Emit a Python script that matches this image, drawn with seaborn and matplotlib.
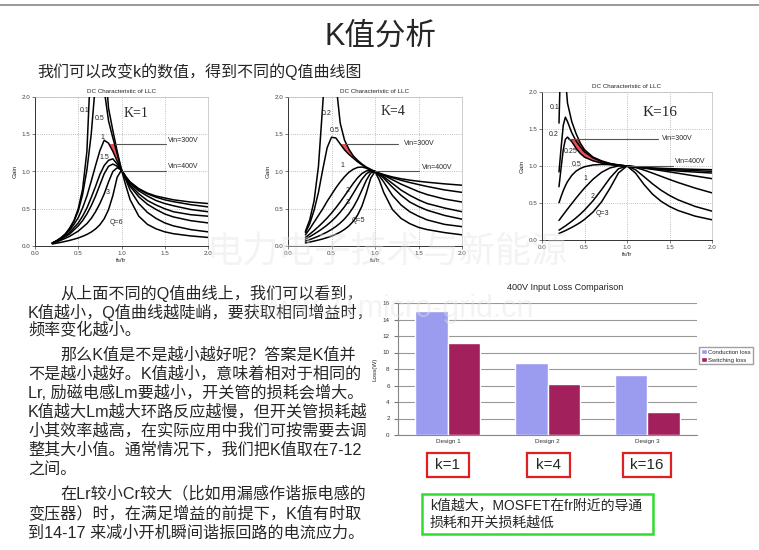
import matplotlib
matplotlib.use("Agg")
import matplotlib.pyplot as plt
from matplotlib.patches import Rectangle
from matplotlib.lines import Line2D
import seaborn as sns
import pandas as pd

W, H = 759, 550

# fs/fr sample points used for the K=1 and K=4 gain plots
FN = [0.2, 0.25, 0.3, 0.35, 0.4, 0.45, 0.5, 0.55, 0.6, 0.65, 0.7, 0.75, 0.8,
      0.85, 0.9, 0.95, 1.0, 1.05, 1.1, 1.2, 1.3, 1.4, 1.5, 1.6, 1.8, 2.0]
# fs/fr sample points for the K=16 plot (denser near the low peaks)
FN16 = [0.2, 0.225, 0.25, 0.275, 0.3, 0.35, 0.4, 0.45, 0.5, 0.6, 0.7, 0.8,
        0.9, 1.0, 1.1, 1.2, 1.3, 1.4, 1.5, 1.6, 1.8, 2.0]

# K=1 gain curves
K1_Q01 = [0.04, 0.07, 0.11, 0.16, 0.24, 0.34, 0.50, 0.76, 1.27, 2.60, 5.00, 4.00, 2.60,
          1.85, 1.55, 1.27, 1.02, 0.93, 0.86, 0.77, 0.71, 0.67, 0.645, 0.62, 0.59, 0.57]
K1_Q05 = [0.04, 0.07, 0.11, 0.16, 0.23, 0.33, 0.47, 0.69, 1.02, 1.50, 2.20, 2.50, 2.10,
          1.68, 1.45, 1.24, 1.02, 0.93, 0.85, 0.76, 0.70, 0.655, 0.62, 0.595, 0.555, 0.525]
K1_Q1 = [0.04, 0.07, 0.10, 0.15, 0.21, 0.29, 0.38, 0.51, 0.67, 0.87, 1.08, 1.28, 1.42,
         1.38, 1.27, 1.14, 1.02, 0.92, 0.84, 0.74, 0.67, 0.61, 0.57, 0.54, 0.49, 0.46]
K1_Q15 = [0.04, 0.066, 0.09, 0.135, 0.18, 0.245, 0.31, 0.40, 0.51, 0.65, 0.80, 0.96, 1.08,
          1.15, 1.17, 1.10, 1.02, 0.91, 0.82, 0.70, 0.61, 0.55, 0.50, 0.46, 0.42, 0.40]
K1_Q2 = [0.04, 0.063, 0.09, 0.125, 0.16, 0.215, 0.27, 0.34, 0.43, 0.54, 0.67, 0.82, 0.97,
         1.07, 1.10, 1.07, 1.02, 0.905, 0.80, 0.66, 0.56, 0.49, 0.43, 0.39, 0.34, 0.31]
K1_Q3 = [0.037, 0.056, 0.078, 0.103, 0.13, 0.165, 0.20, 0.25, 0.30, 0.37, 0.46, 0.57, 0.70,
         0.86, 1.00, 1.05, 1.02, 0.89, 0.75, 0.57, 0.45, 0.37, 0.31, 0.27, 0.22, 0.19]
K1_Q6 = [0.027, 0.038, 0.049, 0.062, 0.075, 0.091, 0.108, 0.13, 0.155, 0.187, 0.229, 0.285, 0.366,
         0.488, 0.676, 0.923, 1.02, 0.81, 0.62, 0.40, 0.29, 0.23, 0.19, 0.165, 0.135, 0.115]

# K=4 gain curves
K4_Q02 = [0.196, 0.351, 0.608, 1.068, 1.91, 2.82, 2.56, 2.20, 1.65, 1.42, 1.30, 1.21, 1.15,
          1.10, 1.06, 1.03, 1.0, 0.977, 0.958, 0.927, 0.903, 0.884, 0.869, 0.856, 0.834, 0.816]
K4_Q05 = [0.18, 0.30, 0.48, 0.72, 1.03, 1.32, 1.46, 1.45, 1.37, 1.29, 1.23, 1.18, 1.13,
          1.09, 1.05, 1.02, 1.0, 0.976, 0.955, 0.916, 0.882, 0.852, 0.825, 0.799, 0.753, 0.72]
K4_Q1 = [0.15, 0.23, 0.32, 0.41, 0.50, 0.60, 0.69, 0.78, 0.86, 0.93, 0.99, 1.03, 1.055,
         1.06, 1.045, 1.015, 1.0, 0.973, 0.95, 0.89, 0.83, 0.78, 0.73, 0.69, 0.63, 0.59]
K4_Q15 = [0.114, 0.16, 0.208, 0.26, 0.316, 0.376, 0.442, 0.513, 0.59, 0.673, 0.757, 0.841, 0.915,
          0.973, 1.007, 1.015, 1.0, 0.968, 0.93, 0.84, 0.75, 0.68, 0.62, 0.57, 0.51, 0.46]
K4_Q2 = [0.092, 0.125, 0.16, 0.197, 0.237, 0.282, 0.332, 0.389, 0.454, 0.528, 0.611, 0.706, 0.804,
         0.897, 0.969, 1.005, 1.0, 0.96, 0.91, 0.79, 0.68, 0.59, 0.53, 0.48, 0.41, 0.36]
K4_Q3 = [0.066, 0.086, 0.108, 0.132, 0.159, 0.188, 0.222, 0.261, 0.308, 0.364, 0.433, 0.519, 0.625,
         0.751, 0.882, 0.98, 1.0, 0.94, 0.86, 0.68, 0.55, 0.46, 0.40, 0.35, 0.29, 0.26]
K4_Q5 = [0.041, 0.053, 0.066, 0.080, 0.095, 0.113, 0.133, 0.157, 0.186, 0.223, 0.269, 0.331, 0.415,
         0.536, 0.708, 0.909, 1.0, 0.882, 0.72, 0.49, 0.37, 0.30, 0.25, 0.22, 0.18, 0.15]

# K=16 gain curves
K16_Q01 = [1.58, 2.70, 3.00, 2.20, 1.85, 1.60, 1.44, 1.31, 1.22, 1.12, 1.07, 1.035,
           1.015, 1.0, 0.99, 0.981, 0.974, 0.969, 0.964, 0.961, 0.955, 0.95]
K16_Q02 = [0.92, 1.25, 1.55, 1.66, 1.60, 1.45, 1.34, 1.26, 1.19, 1.11, 1.06, 1.03,
           1.012, 1.0, 0.988, 0.977, 0.968, 0.96, 0.953, 0.947, 0.937, 0.928]
K16_Q025 = [0.72, 0.98, 1.22, 1.36, 1.39, 1.33, 1.24, 1.17, 1.12, 1.07, 1.04, 1.02,
            1.008, 1.0, 0.987, 0.974, 0.962, 0.951, 0.941, 0.932, 0.918, 0.905]
K16_Q05 = [0.504, 0.589, 0.666, 0.733, 0.789, 0.873, 0.93, 0.966, 0.99, 1.014, 1.021, 1.019,
           1.011, 1.0, 0.987, 0.971, 0.955, 0.938, 0.92, 0.902, 0.865, 0.829]
K16_Q1 = [0.265, 0.304, 0.342, 0.38, 0.418, 0.492, 0.565, 0.635, 0.702, 0.821, 0.914, 0.974,
          1.001, 1.0, 0.979, 0.945, 0.904, 0.861, 0.818, 0.777, 0.702, 0.637]
K16_Q2 = [0.133, 0.152, 0.171, 0.19, 0.211, 0.253, 0.299, 0.349, 0.404, 0.53, 0.679, 0.838,
          0.963, 1.0, 0.949, 0.856, 0.759, 0.673, 0.602, 0.543, 0.454, 0.39]
K16_Q3 = [0.089, 0.101, 0.114, 0.127, 0.141, 0.17, 0.202, 0.237, 0.278, 0.377, 0.514, 0.70,
          0.907, 1.0, 0.905, 0.75, 0.62, 0.524, 0.453, 0.399, 0.323, 0.273]

# loss comparison bar chart
DESIGNS = ["Design 1", "Design 2", "Design 3"]
CONDUCTION = [15.0, 8.7, 7.3]
SWITCHING = [11.1, 6.2, 2.8]
K_BOXES = ["k=1", "k=4", "k=16"]

PARAGRAPHS = [
    "从上面不同的Q值曲线上，我们可以看到，",
    "K值越小，Q值曲线越陡峭，要获取相同增益时，",
    "频率变化越小。",
    "那么K值是不是越小越好呢？答案是K值并",
    "不是越小越好。K值越小，意味着相对于相同的",
    "Lr, 励磁电感Lm要越小，开关管的损耗会增大。",
    "K值越大Lm越大环路反应越慢，但开关管损耗越",
    "小其效率越高，在实际应用中我们可按需要去调",
    "整其大小值。通常情况下，我们把K值取在7-12",
    "之间。",
    "在Lr较小Cr较大（比如用漏感作谐振电感的",
    "变压器）时，在满足增益的前提下，K值有时取",
    "到14-17 来减小开机瞬间谐振回路的电流应力。",
]

sns.set_style("white")
plt.rcParams["font.family"] = ["Liberation Sans", "Noto Sans CJK SC", "DejaVu Sans"]

fig = plt.figure(figsize=(W / 100, H / 100), dpi=100)


def frac(x, y):
    return x / W, 1 - y / H


def axes_rect(left, top, right, bottom):
    return [left / W, 1 - bottom / H, (right - left) / W, (bottom - top) / H]


def gain_plot(rect, fn, curves, red_lo, red_hi, red_from, labels, k_text, k_pos, k_size,
              v300, v400):
    ax = fig.add_axes(rect)
    rows = []
    for name, vals in curves:
        for f, g in zip(fn, vals):
            rows.append({"fs/fr": f, "Gain": g, "Q": name})
    df = pd.DataFrame(rows)
    sns.lineplot(data=df, x="fs/fr", y="Gain", units="Q", estimator=None,
                 color="black", lw=1.1, legend=False, ax=ax, zorder=3)

    cd = dict(curves)
    mask = [red_from <= f <= 1.0 for f in fn]
    poly = ax.fill_between(fn, cd[red_lo], cd[red_hi], where=mask,
                           color="#e8303a", alpha=0.85, lw=0, zorder=2)
    poly.set_clip_path(Rectangle((0, 1.0), 2.0, 0.37, transform=ax.transData))

    # Vin operating lines
    ax.plot(v300[0], [1.37, 1.37], color="#555555", lw=0.8, zorder=4)
    ax.text(v300[1], v300[2], "Vin=300V", fontsize=5, va="center")
    ax.plot(v400[0], [1.0, 1.0], color="#555555", lw=0.8, zorder=4)
    ax.text(v400[1], v400[2], "Vin=400V", fontsize=5, va="center")

    for txt, x, y in labels:
        ax.text(x, y, txt, fontsize=5, ha="center", va="center", zorder=5)
    ax.text(k_pos[0], k_pos[1], k_text, fontsize=k_size, family=["Liberation Serif"],
            ha="center", va="center")

    ax.set_xlim(0, 2)
    ax.set_ylim(0, 2)
    ticks = [0, 0.5, 1.0, 1.5, 2.0]
    ax.set_xticks(ticks, ["0.0", "0.5", "1.0", "1.5", "2.0"])
    ax.set_yticks(ticks, ["0.0", "0.5", "1.0", "1.5", "2.0"])
    ax.tick_params(labelsize=4.5, length=2, width=0.5, colors="#444444", pad=1.5,
                   left=True, bottom=True)
    ax.grid(True, ls=":", color="#aaaaaa", lw=0.6)
    for side in ["left", "bottom"]:
        ax.spines[side].set_color("#333333")
        ax.spines[side].set_linewidth(0.7)
    for side in ["top", "right"]:
        ax.spines[side].set_color("#bbbbbb")
        ax.spines[side].set_linewidth(0.5)
    ax.set_xlabel("fs/fr", fontsize=4.5, labelpad=1.5)
    ax.set_ylabel("Gain", fontsize=4.5, labelpad=3)
    ax.set_title("DC Characteristic of LLC", fontsize=4.5, pad=3)
    return ax


gain_plot(axes_rect(35, 97, 208, 246), FN,
          [("0.1", K1_Q01), ("0.5", K1_Q05), ("1", K1_Q1), ("1.5", K1_Q15),
           ("2", K1_Q2), ("3", K1_Q3), ("6", K1_Q6)],
          "1", "0.5", 0.8,
          [("0.1", 0.57, 1.82), ("0.5", 0.75, 1.71), ("1", 0.78, 1.46),
           ("1.5", 0.80, 1.19), ("3", 0.84, 0.72), ("Q=6", 0.94, 0.32)],
          "K=1", (1.17, 1.78), 10,
          ([0.93, 1.52], 1.54, 1.41), ([1.0, 1.52], 1.54, 1.07))

gain_plot(axes_rect(288, 97, 462, 246), FN,
          [("0.2", K4_Q02), ("0.5", K4_Q05), ("1", K4_Q1), ("1.5", K4_Q15),
           ("2", K4_Q2), ("3", K4_Q3), ("5", K4_Q5)],
          "0.5", "0.2", 0.55,
          [("0.2", 0.45, 1.78), ("0.5", 0.54, 1.55), ("1", 0.62, 1.08),
           ("2", 0.69, 0.74), ("3", 0.69, 0.58), ("Q=5", 0.81, 0.34)],
          "K=4", (1.21, 1.80), 10,
          ([0.65, 1.27], 1.33, 1.37), ([1.0, 1.5], 1.54, 1.05))

gain_plot(axes_rect(542, 92, 712, 240), FN16,
          [("0.1", K16_Q01), ("0.2", K16_Q02), ("0.25", K16_Q025), ("0.5", K16_Q05),
           ("1", K16_Q1), ("2", K16_Q2), ("3", K16_Q3)],
          "0.25", "0.1", 0.3,
          [("0.1", 0.15, 1.79), ("0.2", 0.14, 1.42), ("0.25", 0.34, 1.19),
           ("0.5", 0.41, 1.02), ("1", 0.51, 0.83), ("2", 0.59, 0.59), ("Q=3", 0.71, 0.36)],
          "K=16", (1.39, 1.72), 11,
          ([0.31, 1.37], 1.41, 1.37), ([1.0, 1.54], 1.56, 1.06))

# ---- loss comparison bars ----
bx = fig.add_axes(axes_rect(398, 303, 697, 435))
df_bar = pd.DataFrame({
    "Design": DESIGNS * 2,
    "Loss(W)": CONDUCTION + SWITCHING,
    "Type": ["Conduction loss"] * 3 + ["Switching loss"] * 3,
})
sns.barplot(data=df_bar, x="Design", y="Loss(W)", hue="Type",
            palette=["#9b9cf0", "#a2215c"], width=0.65, gap=0, saturation=1,
            ax=bx, zorder=3)
bx.set_ylim(0, 16)
bx.set_xlim(-0.5, 2.5)
bx.set_yticks(range(0, 17, 2))
bx.yaxis.grid(True, color="#999999", lw=0.8)
bx.set_axisbelow(True)
bx.set_xticks([-0.5, 0.5, 1.5, 2.5], minor=True)
bx.tick_params(axis="both", labelsize=4.5, colors="#333333", length=0, pad=3)
bx.tick_params(axis="x", which="minor", length=3, color="#777777")
bx.tick_params(axis="y", length=3, color="#777777", left=True)
for side in ["top", "right"]:
    bx.spines[side].set_visible(False)
for side in ["left", "bottom"]:
    bx.spines[side].set_color("#888888")
    bx.spines[side].set_linewidth(0.8)
bx.set_xlabel("")
bx.set_ylabel("Loss(W)", fontsize=4.5, labelpad=4)
bx.legend(loc="upper left", bbox_to_anchor=frac(699, 347), bbox_transform=fig.transFigure,
          fontsize=4.3, frameon=True, fancybox=False, edgecolor="#888888", borderpad=0.3,
          handlelength=1.0, handleheight=1.0, handletextpad=0.25, labelspacing=0.4,
          borderaxespad=0)
fig.text(*frac(565, 287), "400V Input Loss Comparison", fontsize=6.5, ha="center",
         va="center", color="#222222")

# k boxes under the bars
for label, (x0, x1) in zip(K_BOXES, [(427, 469), (527, 570), (623, 671)]):
    fig.add_artist(Rectangle(frac(x0, 477), (x1 - x0) / W, 24 / H, transform=fig.transFigure,
                             fc="white", ec="#e02020", lw=1.6))
    fig.text(*frac((x0 + x1) / 2, 465), label, fontsize=11, ha="center", va="center")

fig.add_artist(Rectangle(frac(422, 534), 231 / W, 40 / H, transform=fig.transFigure,
                         fc="white", ec="#2fdc2f", lw=1.8))
fig.text(*frac(430, 505), "k值越大，MOSFET在fr附近的导通", fontsize=10, va="center")
fig.text(*frac(430, 523), "损耗和开关损耗越低", fontsize=10, va="center")

# ---- slide text ----
fig.add_artist(Line2D([0, 1], [1 - 5 / H] * 2, transform=fig.transFigure,
                      color="#888888", lw=1.2))
fig.text(*frac(380, 37), "K值分析", fontsize=22, ha="center", va="center")
fig.text(*frac(37, 72), "我们可以改变k的数值，得到不同的Q值曲线图", fontsize=11.5, va="center")

line_y = [293, 312, 330, 355, 374, 393, 412, 431, 450, 469, 494, 513, 533]
indent = [60, 28, 28, 60, 28, 28, 28, 28, 28, 28, 60, 28, 28]
for txt, x, y in zip(PARAGRAPHS, indent, line_y):
    fig.text(*frac(x, y), txt, fontsize=11.6, va="center")

# faint watermarks
fig.text(*frac(387, 253), "电力电子技术与新能源", fontsize=26, ha="center", va="center",
         color="#e2e2e2", alpha=0.4, zorder=10)
fig.text(*frac(392, 309), "www.21micro-grid.cn", fontsize=22, ha="center", va="center",
         color="#e2e2e2", alpha=0.4, zorder=10)

fig.savefig("out.png", dpi=100)
